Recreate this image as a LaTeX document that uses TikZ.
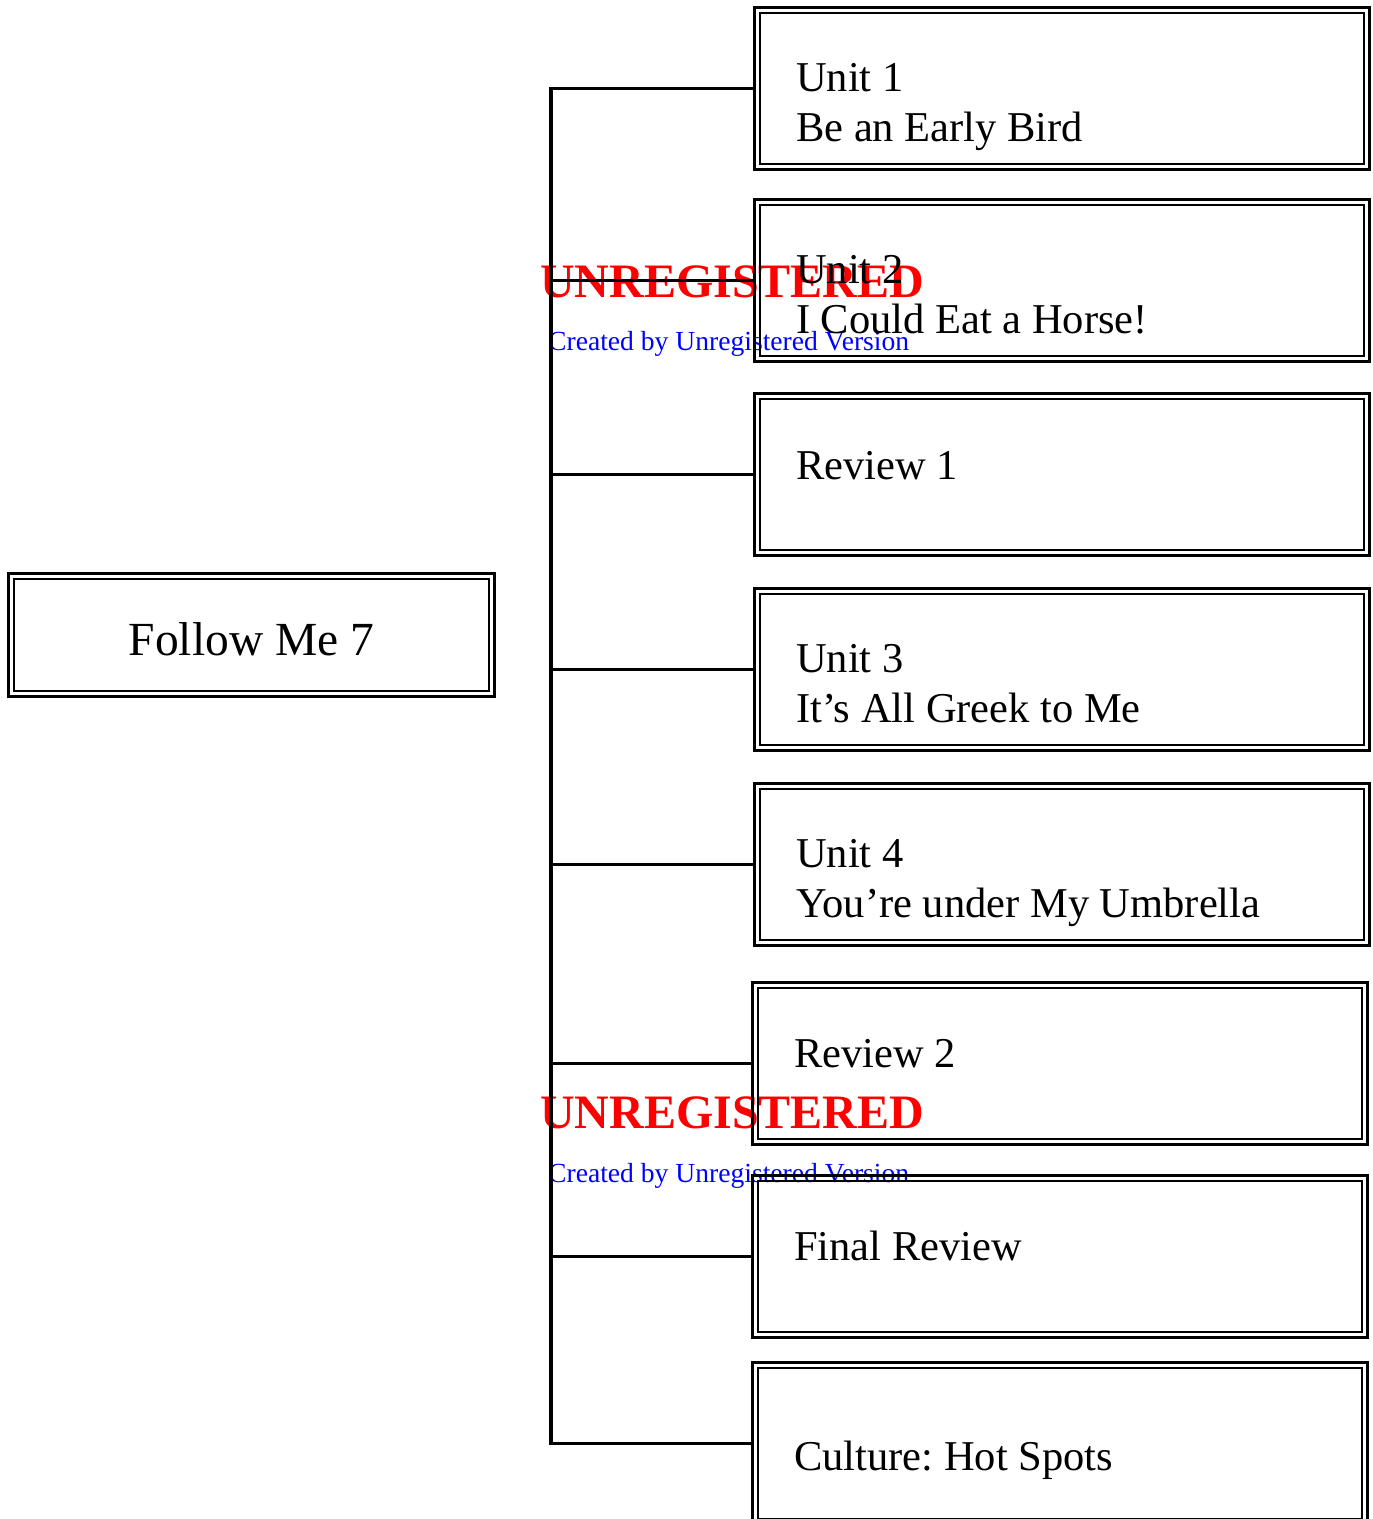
\documentclass[tikz,border=0pt]{standalone}
\usepackage{fontspec}
\setmainfont{Liberation Serif}
\usetikzlibrary{positioning}
\frenchspacing

\begin{document}
\begin{tikzpicture}[x=1pt,y=-1pt,
	unitbox/.style={draw,line width=3.4pt,outer sep=1.7pt,inner sep=0pt,minimum width=614.6pt,minimum height=161.6pt},
	innerframe/.style={line width=2.2pt},
	unittext/.style={anchor=base west,inner sep=0pt,align=left,font=\fontsize{42.5}{49.5}\selectfont},
	stamp/.style={anchor=base west,inner sep=0pt,text=red,font=\fontsize{48}{48}\selectfont\bfseries},
	maker/.style={anchor=base west,inner sep=0pt,text=blue,font=\fontsize{27.6}{27.6}\selectfont},
	branch/.style={line width=3.5pt}]
	\useasboundingbox (0,0) rectangle (1373,1519);

	% watermark texts, below everything
	\node[stamp]	(s1)	at (540,297)	{UNREGISTERED};
	\node[maker]	(m1)	at (548,350)	{Created by Unregistered Version};
	\node[stamp]	(s2)	at (540,1128)	{UNREGISTERED};
	\node[maker]	(m2)	at (548,1182)	{Created by Unregistered Version};

	% root
	\node[unitbox,minimum width=485.6pt,minimum height=122.6pt,text height=40pt,text depth=0pt,font=\fontsize{47.5}{47.5}\selectfont]	(root)	at (251.5,635)	{Follow Me 7};

	% units
	\node[unitbox]										(b1)	at (1062,88.5)	{};
	\node[unitbox,node distance=27pt,below=of b1]				(b2)	{};
	\node[unitbox,node distance=29pt,below=of b2]				(b3)	{};
	\node[unitbox,node distance=30pt,below=of b3]				(b4)	{};
	\node[unitbox,node distance=30pt,below=of b4]				(b5)	{};
	\node[unitbox,node distance=34pt,below=of b5,xshift=-2pt]	(b6)	{};
	\node[unitbox,node distance=28pt,below=of b6]				(b7)	{};
	\node[unitbox,node distance=22pt,below=of b7]				(b8)	{};

	% inner line of each frame
	\foreach \b in {root,b1,b2,b3,b4,b5,b6,b7,b8}
		\draw[innerframe] ([shift={(7pt,-7pt)}]\b.north west) rectangle ([shift={(-7pt,7pt)}]\b.south east);

	\node[unittext]	(t1)	at ([xshift=43pt,yshift=-135pt]b1.north west)	{Unit 1\\Be an Early Bird};
	\node[unittext]	(t2)	at ([xshift=43pt,yshift=-135pt]b2.north west)	{Unit 2\\I Could Eat a Horse!};
	\node[unittext]	(t3)	at ([xshift=43pt,yshift=-87pt]b3.north west)	{Review 1};
	\node[unittext]	(t4)	at ([xshift=43pt,yshift=-135pt]b4.north west)	{Unit 3\\It’s All Greek to Me};
	\node[unittext]	(t5)	at ([xshift=43pt,yshift=-135pt]b5.north west)	{Unit 4\\You’re under My Umbrella};
	\node[unittext]	(t6)	at ([xshift=43pt,yshift=-86pt]b6.north west)	{Review 2};
	\node[unittext]	(t7)	at ([xshift=43pt,yshift=-86pt]b7.north west)	{Final Review};
	\node[unittext]	(t8)	at ([xshift=43pt,yshift=-109pt]b8.north west)	{Culture: Hot Spots};

	% trunk and branches
	\coordinate (trunk) at (551,0);
	\draw[branch] (b1.west) -- (b1.west -| trunk) -- (b8.west -| trunk) -- (b8.west);
	\foreach \b in {b2,b3,b4,b5,b6,b7}
		\draw[branch] (\b.west -| trunk) -- (\b.west);
\end{tikzpicture}
\end{document}
